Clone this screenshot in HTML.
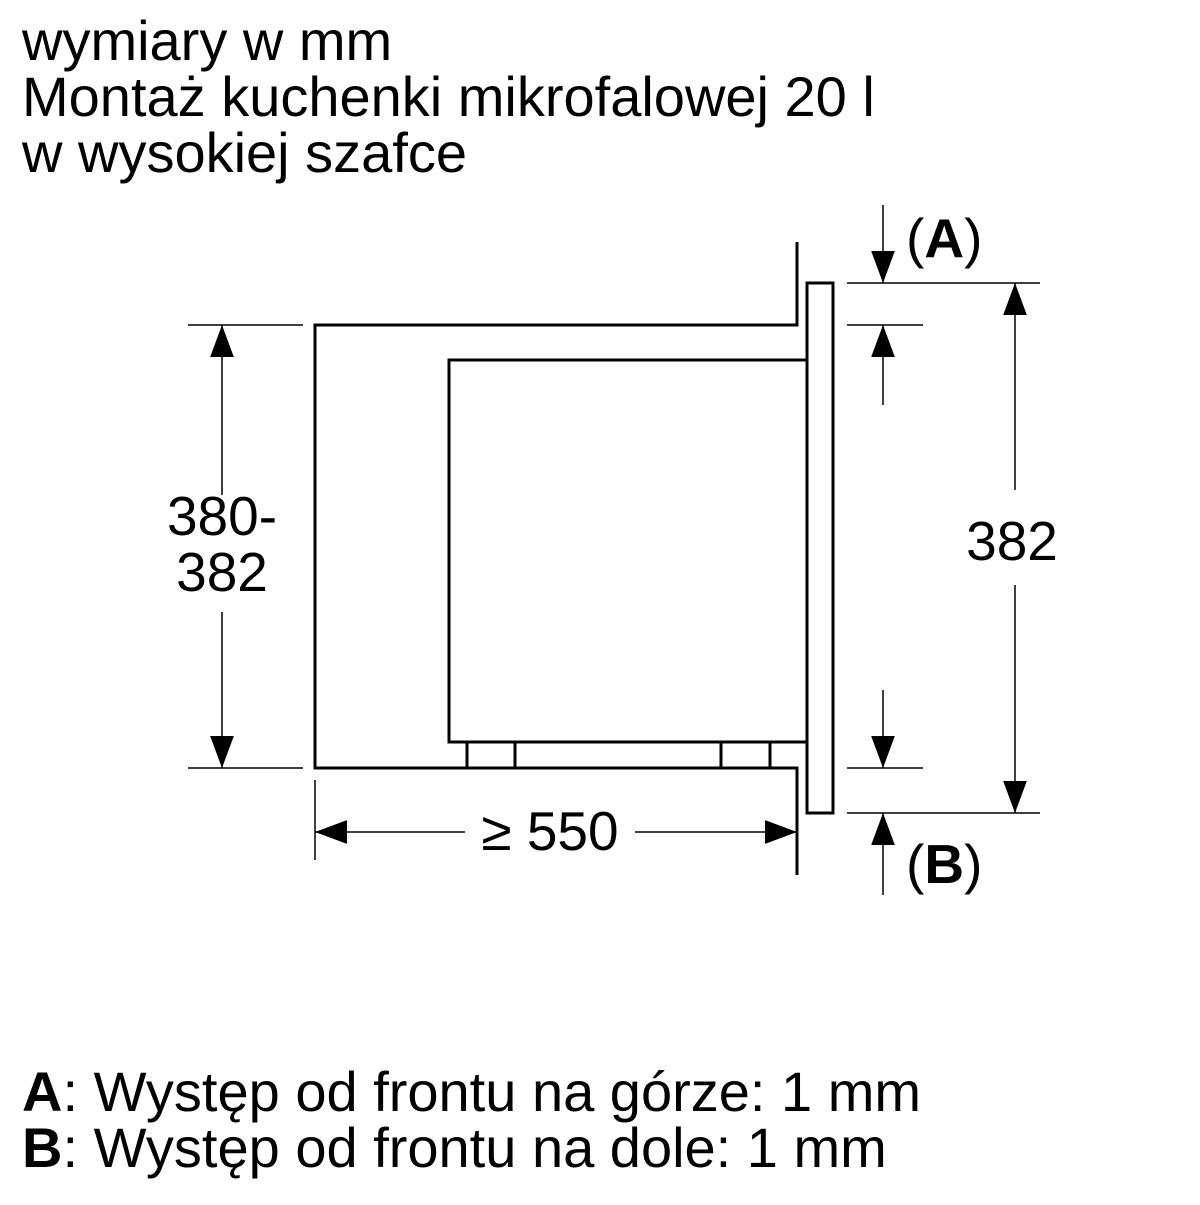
<!DOCTYPE html>
<html><head><style>
body{margin:0;width:1200px;height:1200px;background:#fff;overflow:hidden;font-family:"Liberation Sans",sans-serif}
</style></head><body>
<svg width="1200" height="1200" xmlns="http://www.w3.org/2000/svg" font-family="Liberation Sans, sans-serif">
<defs>
<marker id="ar" viewBox="0 0 10 10" refX="10" refY="5" markerWidth="32" markerHeight="32" markerUnits="userSpaceOnUse" orient="auto"><path d="M0,1.3 L10,5 L0,8.7z" fill="#000"/></marker>
</defs>
<g font-size="56" fill="#000">
<text x="22" y="60">wymiary w mm</text>
<text x="22" y="116">Montaż kuchenki mikrofalowej 20 l</text>
<text x="22" y="172">w wysokiej szafce</text>
<text x="22" y="1111"><tspan font-weight="bold">A</tspan>: Występ od frontu na górze: 1 mm</text>
<text x="22" y="1167"><tspan font-weight="bold">B</tspan>: Występ od frontu na dole: 1 mm</text>
</g>
<g stroke="#000" fill="none" stroke-width="3">
<path d="M797,242 V325 H315 V768 H797 V875"/>
<rect x="807" y="283" width="26" height="530"/>
<path d="M807,742 H449 V360 H807"/>
<rect x="467" y="742" width="48" height="26"/>
<rect x="721" y="742" width="49" height="26"/>
</g>
<g stroke="#000" stroke-width="1.5" fill="none">
<path d="M188,325 H303 M188,768 H303"/>
<path d="M847,283 H1040 M847,325 H923 M847,768 H923 M847,813 H1040"/>
<line x1="222" y1="495" x2="222" y2="325" marker-end="url(#ar)"/>
<line x1="222" y1="612" x2="222" y2="768" marker-end="url(#ar)"/>
<line x1="1015" y1="490" x2="1015" y2="283" marker-end="url(#ar)"/>
<line x1="1015" y1="585" x2="1015" y2="813" marker-end="url(#ar)"/>
<line x1="883" y1="205" x2="883" y2="283" marker-end="url(#ar)"/>
<line x1="883" y1="895" x2="883" y2="813" marker-end="url(#ar)"/>
<line x1="883" y1="405" x2="883" y2="325" marker-end="url(#ar)"/>
<line x1="883" y1="690" x2="883" y2="768" marker-end="url(#ar)"/>
<line x1="465" y1="832" x2="315" y2="832" marker-end="url(#ar)"/>
<line x1="635" y1="832" x2="797" y2="832" marker-end="url(#ar)"/>
<line x1="315" y1="780" x2="315" y2="860"/>
</g>
<g font-size="55" fill="#000">
<text x="222" y="535" text-anchor="middle">380-</text>
<text x="222" y="591" text-anchor="middle">382</text>
<text x="1012" y="560" text-anchor="middle">382</text>
<text x="550" y="850" text-anchor="middle">≥ 550</text>
<text x="906" y="257">(<tspan font-weight="bold">A</tspan>)</text>
<text x="906" y="883">(<tspan font-weight="bold">B</tspan>)</text>
</g>
</svg>
</body></html>
